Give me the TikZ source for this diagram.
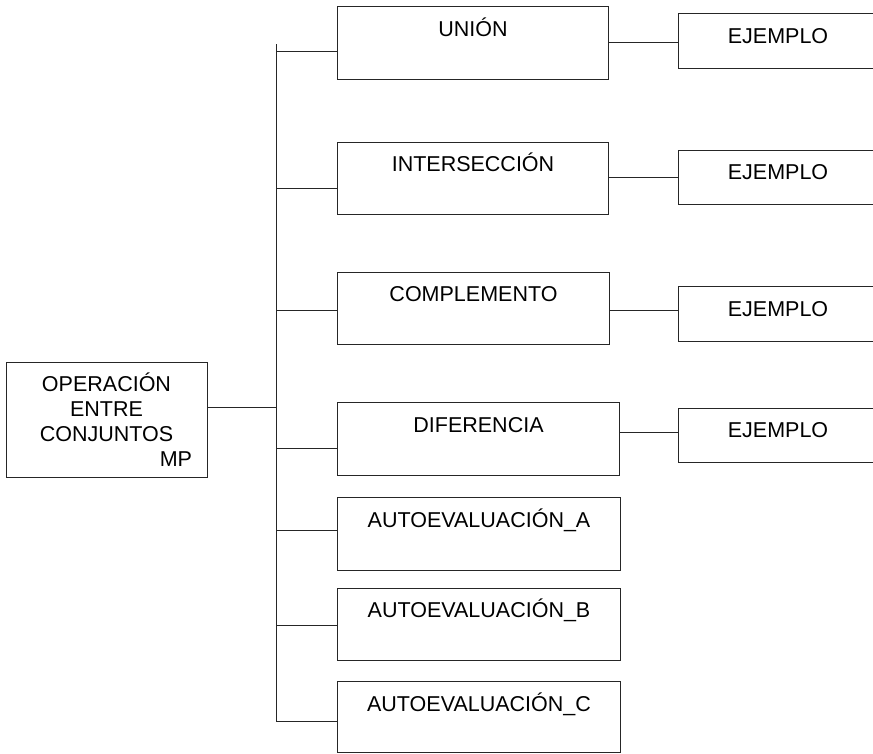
\documentclass[tikz,border=0pt]{standalone}
\usepackage{fontspec}
\setmainfont{Liberation Sans}
\usetikzlibrary{positioning}

\tikzset{
  linea/.style={black!85, line width=1pt},
  caja/.style={draw=black!85, line width=1pt, inner sep=0pt, anchor=north west,
    text height=29.5pt, text depth=43pt},
  cajaej/.style={draw=black!85, line width=1pt, inner sep=0pt, anchor=north west,
    minimum width=199pt, text height=29.5pt, text depth=25pt},
}

\begin{document}
\begin{tikzpicture}[x=1pt,y=-1pt,font=\fontsize{21.5}{25}\selectfont]
	\useasboundingbox (0,0) rectangle (873,753);
	\clip (0,0) rectangle (873,753);
	\node [draw=black!85, line width=1pt, minimum width=201pt, minimum height=115pt,
		text width=171pt, align=center] (op) at (106.5,419.5)
		{OPERACIÓN\\ENTRE\\CONJUNTOS\\\mbox{}\hfill MP};
	\node [caja, minimum width=271pt] (union) at (337,6) {UNIÓN};
	\node [caja, minimum width=271pt] (inter) at (337,141.5) {INTERSECCIÓN};
	\node [caja, minimum width=272pt] (compl) at (337,271.5) {COMPLEMENTO};
	\node [caja, minimum width=282pt] (difer) at (337,402) {DIFERENCIA};
	\node [caja, minimum width=283pt] (autoA) at (337,497) {AUTOEVALUACIÓN\_A};
	\node [caja, minimum width=283pt] (autoB) at (337,587.5) {AUTOEVALUACIÓN\_B};
	\node [caja, minimum width=283pt, text depth=41pt] (autoC) at (337,681) {AUTOEVALUACIÓN\_C};
	\node [cajaej] (ej1) at (678,13) {EJEMPLO};
	\node [cajaej] (ej2) at (678,149.5) {EJEMPLO};
	\node [cajaej] (ej3) at (678,286) {EJEMPLO};
	\node [cajaej] (ej4) at (678,407.5) {EJEMPLO};
	\coordinate (bustop) at (276,44);
	\coordinate (busbot) at (276,721);
	\coordinate (b1) at (276,51);
	\coordinate (b2) at (276,188);
	\coordinate (b3) at (276,310);
	\coordinate (b4) at (276,448);
	\coordinate (b5) at (276,530);
	\coordinate (b6) at (276,625);
	\coordinate (b7) at (276,721);
	\coordinate (bop) at (276,407);
	\draw [linea] (bustop)--(busbot);
	\draw [linea] (op.east |- bop)--(bop);
	\draw [linea] (b1)--(b1 -| union.west);
	\draw [linea] (b2)--(b2 -| inter.west);
	\draw [linea] (b3)--(b3 -| compl.west);
	\draw [linea] (b4)--(b4 -| difer.west);
	\draw [linea] (b5)--(b5 -| autoA.west);
	\draw [linea] (b6)--(b6 -| autoB.west);
	\draw [linea] (b7)--(b7 -| autoC.west);
	\coordinate (e1) at (0,42);
	\coordinate (e2) at (0,177);
	\coordinate (e3) at (0,310);
	\coordinate (e4) at (0,432);
	\draw [linea] (e1 -| union.east)--(e1 -| ej1.west);
	\draw [linea] (e2 -| inter.east)--(e2 -| ej2.west);
	\draw [linea] (e3 -| compl.east)--(e3 -| ej3.west);
	\draw [linea] (e4 -| difer.east)--(e4 -| ej4.west);
\end{tikzpicture}
\end{document}
